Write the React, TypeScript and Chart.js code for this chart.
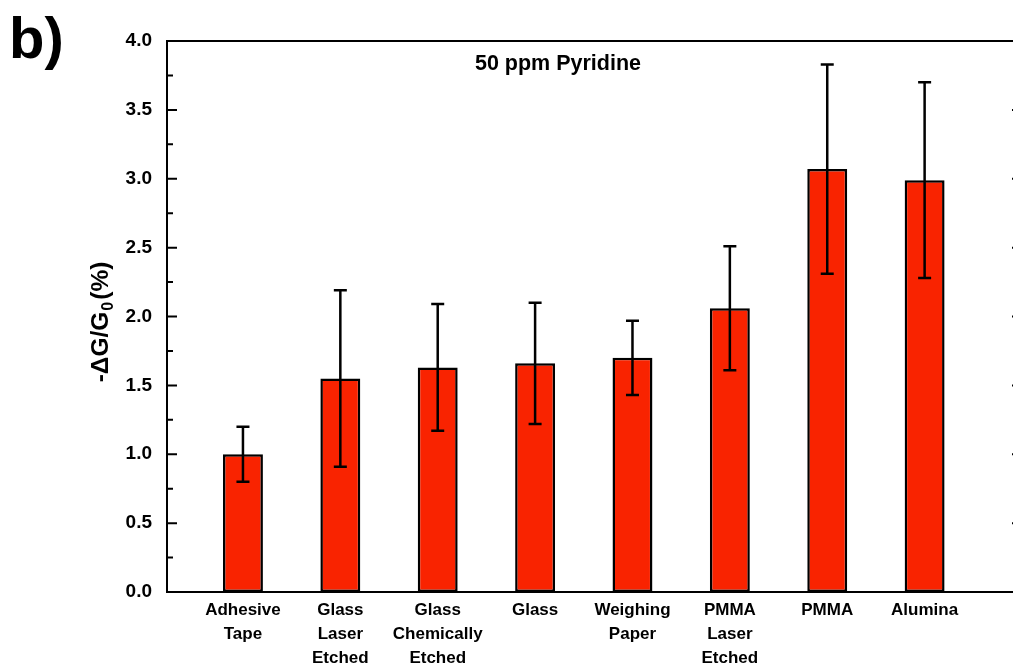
import React, { useEffect, useRef } from 'react';
import { Chart, registerables } from 'chart.js';

Chart.register(...registerables);

const categories: string[][] = [
  ['Adhesive', 'Tape'],
  ['Glass', 'Laser', 'Etched'],
  ['Glass', 'Chemically', 'Etched'],
  ['Glass'],
  ['Weighing', 'Paper'],
  ['PMMA', 'Laser', 'Etched'],
  ['PMMA'],
  ['Alumina'],
];
const positions = [1, 2, 3, 4, 5, 6, 7, 8];
const values = [1.0, 1.55, 1.63, 1.66, 1.7, 2.06, 3.07, 2.99];
const errors = [0.2, 0.64, 0.46, 0.44, 0.27, 0.45, 0.76, 0.71];
const yTickValues = [0, 0.5, 1.0, 1.5, 2.0, 2.5, 3.0, 3.5, 4.0];
const yMinorValues = [0.25, 0.75, 1.25, 1.75, 2.25, 2.75, 3.25, 3.75];
const titleText = '50 ppm Pyridine';
const panelLabel = 'b)';
const yTitleMain = '-\u0394G/G';
const yTitleSub = '0';
const yTitleEnd = '(%)';

const FAMILY = "'Liberation Sans', Arial, sans-serif";

const decorPlugin = {
  id: 'decor',
  afterDatasetsDraw(chart: any) {
    const { ctx, chartArea, scales } = chart;
    const { left, right, top, bottom } = chartArea;
    const x = scales.x;
    const y = scales.y;
    ctx.save();
    ctx.strokeStyle = '#000';
    ctx.fillStyle = '#000';
    // error bars
    ctx.lineWidth = 2.5;
    values.forEach((v, i) => {
      const px = x.getPixelForValue(positions[i]);
      const hi = y.getPixelForValue(v + errors[i]);
      const lo = y.getPixelForValue(v - errors[i]);
      ctx.beginPath();
      ctx.moveTo(px, hi);
      ctx.lineTo(px, lo);
      ctx.moveTo(px - 6.5, hi);
      ctx.lineTo(px + 6.5, hi);
      ctx.moveTo(px - 6.5, lo);
      ctx.lineTo(px + 6.5, lo);
      ctx.stroke();
    });
    // frame
    ctx.lineWidth = 2;
    ctx.strokeRect(left, top, right - left, bottom - top);
    // inward ticks
    ctx.beginPath();
    yTickValues.forEach((v) => {
      const py = y.getPixelForValue(v);
      ctx.moveTo(left, py);
      ctx.lineTo(left + 10, py);
      ctx.moveTo(right, py);
      ctx.lineTo(right - 10, py);
    });
    yMinorValues.forEach((v) => {
      const py = y.getPixelForValue(v);
      ctx.moveTo(left, py);
      ctx.lineTo(left + 6, py);
      ctx.moveTo(right, py);
      ctx.lineTo(right - 6, py);
    });
    ctx.stroke();
    // inner title
    ctx.font = `bold 21.5px ${FAMILY}`;
    ctx.textAlign = 'center';
    ctx.textBaseline = 'middle';
    ctx.fillText(titleText, left + 391, top + 23);
    // y axis title (rotated, with subscript)
    ctx.save();
    ctx.translate(99, 322);
    ctx.rotate(-Math.PI / 2);
    const mainFont = `bold 24.5px ${FAMILY}`;
    const subFont = `bold 16px ${FAMILY}`;
    ctx.font = mainFont;
    const w1 = ctx.measureText(yTitleMain).width;
    const w3 = ctx.measureText(yTitleEnd).width;
    ctx.font = subFont;
    const w2 = ctx.measureText(yTitleSub).width;
    let xx = -(w1 + w2 + w3 + 3) / 2;
    ctx.textAlign = 'left';
    ctx.textBaseline = 'alphabetic';
    ctx.font = mainFont;
    ctx.fillText(yTitleMain, xx, 8.5);
    xx += w1;
    ctx.font = subFont;
    ctx.fillText(yTitleSub, xx + 1, 14);
    xx += w2 + 3;
    ctx.font = mainFont;
    ctx.fillText(yTitleEnd, xx, 8.5);
    ctx.restore();
    // panel label
    ctx.font = `bold 58px ${FAMILY}`;
    ctx.textAlign = 'left';
    ctx.textBaseline = 'alphabetic';
    ctx.fillText(panelLabel, 9, 58);
    ctx.restore();
  },
};

export default function App() {
  const ref = useRef<HTMLCanvasElement | null>(null);
  useEffect(() => {
    if (!ref.current) return;
    const chart = new Chart(ref.current, {
      type: 'bar',
      data: {
        datasets: [
          {
            data: positions.map((p, i) => ({ x: p, y: values[i] })),
            backgroundColor: '#F92300',
            borderColor: '#000',
            borderWidth: 2.5,
            borderSkipped: false,
            barPercentage: 0.41,
            categoryPercentage: 1,
          } as any,
        ],
      },
      options: {
        responsive: false,
        animation: false,
        devicePixelRatio: 1,
        layout: { padding: { left: 0, top: 41, right: 18, bottom: 0 } },
        plugins: { legend: { display: false }, tooltip: { enabled: false }, title: { display: false } },
        scales: {
          x: {
            type: 'linear',
            min: 0.22,
            max: 9.0,
            offset: false,
            grid: { display: false },
            border: { display: true, color: '#000', width: 2 },
            afterBuildTicks: (s: any) => {
              s.ticks = positions.map((v) => ({ value: v }));
            },
            afterFit: (s: any) => {
              s.height = 77;
            },
            ticks: {
              autoSkip: false,
              maxRotation: 0,
              minRotation: 0,
              padding: -2,
              color: '#000',
              font: { family: FAMILY, size: 17, weight: 'bold', lineHeight: 1.43 },
              callback: (v: any) => {
                const idx = positions.indexOf(Number(v));
                return idx >= 0 ? categories[idx] : '';
              },
            },
          },
          y: {
            type: 'linear',
            min: 0,
            max: 4,
            grid: { display: false },
            border: { display: true, color: '#000', width: 2 },
            afterBuildTicks: (s: any) => {
              s.ticks = yTickValues.map((v) => ({ value: v }));
            },
            afterFit: (s: any) => {
              s.width = 167;
            },
            ticks: {
              padding: 7,
              color: '#000',
              font: { family: FAMILY, size: 19, weight: 'bold' },
              callback: (v: any) => Number(v).toFixed(1),
            },
          },
        },
      } as any,
      plugins: [decorPlugin],
    });
    return () => chart.destroy();
  }, []);
  return (
    <div
      style={{
        position: 'fixed',
        left: 0,
        top: 0,
        width: 1013,
        height: 669,
        overflow: 'hidden',
        background: '#fff',
      }}
    >
      <canvas ref={ref} width={1040} height={669} style={{ display: 'block', width: 1040, height: 669 }} />
    </div>
  );
}
